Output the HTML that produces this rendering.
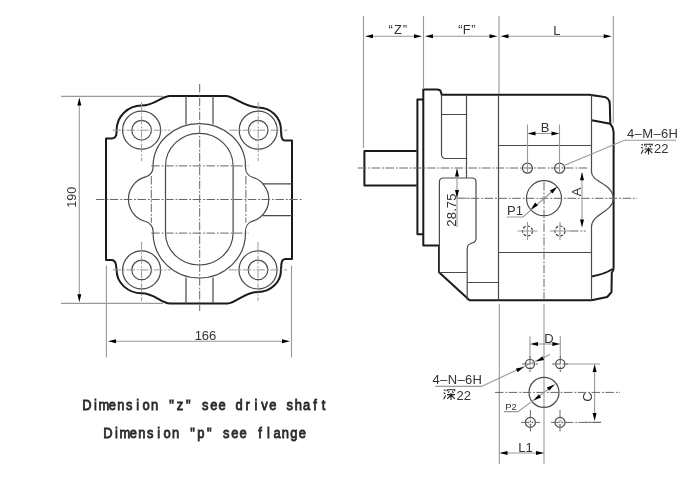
<!DOCTYPE html>
<html><head><meta charset="utf-8"><style>
html,body{margin:0;padding:0;background:#fff;width:700px;height:500px;overflow:hidden}
svg{display:block;will-change:transform}
.k{fill:none;stroke:#1a1a1a;stroke-width:2;stroke-linejoin:round}
.t{fill:none;stroke:#4a4a4a;stroke-width:1.2}
.h{fill:none;stroke:#333;stroke-width:1.1;stroke-dasharray:3 1.5}
.h2{fill:none;stroke:#999;stroke-width:0.8;stroke-dasharray:1 1}
.c2{fill:none;stroke:#999;stroke-width:1;stroke-dasharray:8.5 2 1.8 1.5}
.c{fill:none;stroke:#666;stroke-width:1;stroke-dasharray:8.5 2 1.8 1.5}
.d{fill:none;stroke:#999;stroke-width:1.1}
.cj{fill:none;stroke:#222;stroke-width:1.1}
.ar{fill:#000;stroke:none}
text{font-family:"Liberation Sans",sans-serif;fill:#333}
.dim{font-size:13px}
.dims{font-size:9.5px}
.note{font-family:"Liberation Sans",sans-serif;font-size:15.2px;fill:#2a2a2a;stroke:#2a2a2a;stroke-width:0.85}
</style></head><body>
<svg width="700" height="500" viewBox="0 0 700 500">
<path class="k" d="M169.3,96 L226.6,96 C236,97.5 245,107.4 258.2,107.4 A22.8,22.8 0 0 1 281,130.2 L281.4,136 Q281.8,140.6 285.5,140.6 L292,140.6 L292,258.9 L285.5,258.9 Q281.8,258.9 281.4,264 L281,269.9 A23,22 0 0 1 258,291.9 C245,291.9 236,303 227.5,303.6 L170.4,303.6 C160,303 155,293.2 141.6,293.2 A25,23.3 0 0 1 116.6,269.9 L116,265 Q115.4,260 111,260 L106,260 L106,138.4 L111.5,138.4 Q116.3,138.4 116.5,133 L116.6,130.2 A25,24.7 0 0 1 141.6,105.5 C155,105.5 160,97 169.3,96 Z"/>
<circle class="t" cx="141.6" cy="130.2" r="19"/>
<circle class="t" cx="141.6" cy="130.2" r="9.8"/>
<circle class="t" cx="258.2" cy="130.2" r="19"/>
<circle class="t" cx="258.2" cy="130.2" r="9.8"/>
<circle class="t" cx="141.6" cy="269.9" r="19"/>
<circle class="t" cx="141.6" cy="269.9" r="9.8"/>
<circle class="t" cx="258" cy="269.9" r="19"/>
<circle class="t" cx="258" cy="269.9" r="9.8"/>
<path class="t" d="M186,96 V124.5 M213,96 V124.5 M186,277.5 V303.6 M213,277.5 V303.6"/>
<path class="t" d="M153.1,166 A46.2,42.4 0 0 1 245.5,166 L245.5,167.66 A10,10 0 0 0 252.56,177.22 A23,23 0 0 1 252.56,221.18 A10,10 0 0 0 245.5,230.74 L245.5,233.1 A46.2,44.9 0 0 1 153.1,233.1 L153.1,231.14 A10,10 0 0 0 145.62,221.46 A23,23 0 0 1 145.62,176.94 A10,10 0 0 0 153.1,167.26 Z"/>
<path class="t" d="M165.5,166 A33.8,32.7 0 0 1 233.1,166 L233.1,233.1 A33.8,31.9 0 0 1 165.5,233.1 Z"/>
<path class="t" d="M262.8,183.9 H292 M262.8,215.6 H292"/>
<path class="c" d="M96,199.5 H302 M199.7,84 V311 M151.2,165.9 H248.4 M151.2,233.1 H248.4 M151.3,176 V222.8 M245.9,176 V222.8"/>
<path class="c2" d="M112.6,130.2 H170.6 M141.6,102.19999999999999 V161.2 M229.2,130.2 H287.2 M258.2,102.19999999999999 V161.2 M112.6,269.9 H170.6 M141.6,241.89999999999998 V300.9 M229,269.9 H287 M258,241.89999999999998 V300.9"/>
<path class="d" d="M61,96.4 H163 M61,303.4 H163 M79.3,104 V296 M106.4,265.5 V357.5 M291.5,265.5 V357.5 M114,341.2 H284"/>
<path class="ar" d="M79.30,97.60 L81.30,105.60 L77.30,105.60 Z"/>
<path class="ar" d="M79.30,302.20 L77.30,294.20 L81.30,294.20 Z"/>
<path class="ar" d="M108.00,341.20 L116.00,339.20 L116.00,343.20 Z"/>
<path class="ar" d="M290.00,341.20 L282.00,343.20 L282.00,339.20 Z"/>
<text class="dim" x="205.5" y="340" text-anchor="middle">166</text>
<text class="dim" transform="translate(75.8,197.3) rotate(-90)" text-anchor="middle" style="font-size:12.5px">190</text>
<path class="k" d="M416.6,151 H364.4 V185.4 H416.6"/>
<path class="k" d="M423,99.4 H417.4 V234.3 H423"/>
<path class="k" d="M423.3,245.6 V89.4 H437 Q440.5,89.4 441,92 L441.6,94.8 H589.2 L603,96.8 Q609.6,97.5 609.8,104 L610.3,123.8 L612.6,127.4 L613.6,132 V268 Q613.4,271.5 611.8,272.5 L611.5,292 L607.2,297 L591.6,300.2 H469.6 L439,272.3 V245.6 Z"/>
<path class="k" d="M591.6,120.2 L610.3,123.8 M591.6,276.4 Q604,274.5 612.6,269"/>
<path class="t" d="M441.5,94.8 V154 Q441.5,158.5 445.5,158.5 H466.5 M441.5,114.5 H466.5 M466.5,94.8 V178 M498.5,94.8 V300.2 M498.5,145.5 H591.5 M498.5,252.5 H591.5 M591.5,94.8 V172 C591.5,182 613.3,184 613.3,198.4 C613.3,212 591.5,214 591.5,226.7 V300.2"/>
<path class="t" d="M439.4,272.3 V182 Q439.4,178 443.4,178 H472 Q476,178 476,182 V238.4 Q476,242 472,243 L470,244 Q467.2,245 467.2,249 V300.2 M439,272.5 H466.5 M467.2,282.5 H498.5"/>
<circle class="t" cx="527.4" cy="168.2" r="5"/><circle class="t" cx="559.6" cy="168.2" r="5"/>
<circle class="t" cx="544" cy="198.2" r="17.5"/>
<circle class="h" cx="527.5" cy="231" r="5"/><circle class="h" cx="560" cy="231" r="5"/><path class="d" d="M517.5,231 H537.5 M527.5,222 V240 M550,231 H570 M560,222 V240"/>
<path class="c" d="M357.9,168 H588.6 M457,198.3 H637 M570,231 H585.7 M544,182 V300 "/>
<path class="d" d="M363.5,16 V148 M423.5,16 V89 M499,16 V94 M613.3,16 V123.5 M371,36.3 H416 M431,36.3 H491 M506,36.3 H605"/>
<path class="ar" d="M365.00,36.30 L373.00,34.30 L373.00,38.30 Z"/><path class="ar" d="M422.00,36.30 L414.00,38.30 L414.00,34.30 Z"/><path class="ar" d="M425.00,36.30 L433.00,34.30 L433.00,38.30 Z"/><path class="ar" d="M497.50,36.30 L489.50,38.30 L489.50,34.30 Z"/><path class="ar" d="M500.50,36.30 L508.50,34.30 L508.50,38.30 Z"/><path class="ar" d="M611.70,36.30 L603.70,38.30 L603.70,34.30 Z"/>
<text class="dim" x="390.6 398 405" y="34.4" text-anchor="middle">“Z”</text>
<text class="dim" x="460.3 466.8 473.3" y="34.4" text-anchor="middle">“F”</text>
<text class="dim" x="556.9" y="34.5" text-anchor="middle">L</text>
<path class="d" d="M527.5,124.4 V173 M559.5,124.4 V173 M535,133.5 H552"/>
<path class="ar" d="M527.50,133.50 L535.50,131.50 L535.50,135.50 Z"/><path class="ar" d="M559.50,133.50 L551.50,135.50 L551.50,131.50 Z"/>
<text class="dim" x="545" y="131.9" text-anchor="middle">B</text>
<path class="d" d="M563,166 L624.4,140.3 H676"/>
<text class="dim" x="627" y="137.9" textLength="51" lengthAdjust="spacing">4–M–6H</text>
<path class="d" d="M582,172.7 V225"/>
<path class="ar" d="M582.00,172.20 L584.00,180.20 L580.00,180.20 Z"/><path class="ar" d="M582.00,227.50 L580.00,219.50 L584.00,219.50 Z"/>
<text class="dim" transform="translate(580.5,192) rotate(-90)" text-anchor="middle">A</text>
<path class="d" d="M507,217 H523 L556,188"/>
<path class="ar" d="M530.80,209.60 L535.17,202.60 L537.94,205.48 Z"/><path class="ar" d="M557.20,186.80 L552.47,193.56 L549.85,190.54 Z"/>
<text class="dim" x="515" y="215" text-anchor="middle">P1</text>
<path class="d" d="M457,169 V227 M457,198.3 H470"/>
<path class="ar" d="M457.00,168.50 L459.00,176.50 L455.00,176.50 Z"/><path class="ar" d="M457.00,198.00 L455.00,190.00 L459.00,190.00 Z"/>
<text class="dim" transform="translate(456,227) rotate(-90)" x="4 11.3 17.2 22.5 29.8" text-anchor="middle">28.75</text>
<path class="d" d="M499.3,304 V464 M544,304 V464 M530,336.2 V358 M560.3,336.2 V358 M501,453 H543 M594.6,370 V415 M565,364 H600 M585,422.4 H601"/>
<circle class="t" cx="530" cy="364" r="4.6"/><circle class="t" cx="560.3" cy="364" r="4.6"/>
<circle class="t" cx="544" cy="392.4" r="15"/>
<circle class="t" cx="530.4" cy="422.4" r="5"/><circle class="t" cx="560" cy="422.4" r="5"/><circle class="h2" cx="530.4" cy="422.4" r="2.4"/><circle class="h2" cx="560" cy="422.4" r="2.4"/>
<path class="c" d="M495,392.4 H620 M521,422.4 H540 M551,422.4 H601 M522,364 H538 M552,364 H568 M530,356 V372 M560.3,356 V372 M530.4,410 V431.5 M560,410 V431.5"/>
<path class="ar" d="M530.00,344.00 L538.00,342.00 L538.00,346.00 Z"/><path class="ar" d="M560.30,344.00 L552.30,346.00 L552.30,342.00 Z"/>
<path class="d" d="M538,344 H552"/>
<text class="dim" x="549" y="343" text-anchor="middle">D</text>
<path class="ar" d="M594.60,364.00 L596.60,372.00 L592.60,372.00 Z"/><path class="ar" d="M594.60,421.00 L592.60,413.00 L596.60,413.00 Z"/>
<text class="dim" transform="translate(592,397) rotate(-90)" text-anchor="middle">C</text>
<path class="ar" d="M499.50,453.00 L507.50,451.00 L507.50,455.00 Z"/><path class="ar" d="M544.00,453.00 L536.00,455.00 L536.00,451.00 Z"/>
<text class="dim" x="525.5" y="452" text-anchor="middle">L1</text>
<path class="d" d="M435.2,386.4 H481.6 L550,354.5"/>
<path class="ar" d="M524.00,367.00 L517.59,372.19 L515.90,368.57 Z"/><path class="ar" d="M536.00,361.50 L542.41,356.31 L544.10,359.93 Z"/>
<text class="dim" x="432.5" y="384" textLength="49.5" lengthAdjust="spacing">4–N–6H</text>
<path class="d" d="M504,411.6 H518 L555,384.4"/>
<path class="ar" d="M533.50,400.50 L538.80,394.18 L541.15,397.42 Z"/><path class="ar" d="M554.50,384.50 L549.20,390.82 L546.85,387.58 Z"/>
<text class="dims" x="511" y="410" text-anchor="middle">P2</text>
<text class="note" transform="scale(0.85,1)" x="102.35 112.29 122.24 132.18 142.12 152.06 162.00 171.94 181.88 191.82 201.76 211.71 221.65 231.59 241.53 251.47 261.41 271.35 281.29 291.24 301.18 311.12 321.06 331.00 340.94 350.88 360.82 370.76 380.71" y="409.6" text-anchor="middle">Dimension &quot;z&quot; see drive shaft</text>
<text class="note" transform="scale(0.85,1)" x="127.06 137.00 146.94 156.88 166.82 176.76 186.71 196.65 206.59 216.53 226.47 236.41 246.35 256.29 266.24 276.18 286.12 296.06 306.00 315.94 325.88 335.82 345.76 355.71" y="437.6" text-anchor="middle">Dimension &quot;p&quot; see flange</text>
<path class="cj" d="M641.5,144.2 l1.5,1.0 M641.2,147.2 l1.5,1.0 M641.2,153.7 l2.0,-4.0 M644.7,145.7 v-1.5 h7.5 v1.5 M646.7,145.7 l-1.0,1.5 M649.7,145.7 l1.2,1.5 M644.5,149.0 h8.0 M648.5,147.5 v7.0 M648.5,149.2 l-3.8,4.0 M648.5,149.2 l3.8,4.0"/>
<text class="dim" x="654" y="153.2" text-anchor="start">22</text>
<path class="cj" d="M444.0,389.8 l1.5,1.0 M443.7,392.8 l1.5,1.0 M443.7,399.3 l2.0,-4.0 M447.2,391.3 v-1.5 h7.5 v1.5 M449.2,391.3 l-1.0,1.5 M452.2,391.3 l1.2,1.5 M447.0,394.6 h8.0 M451.0,393.1 v7.0 M451.0,394.8 l-3.8,4.0 M451.0,394.8 l3.8,4.0"/>
<text class="dim" x="456.5" y="399.8" text-anchor="start">22</text>
</svg>
</body></html>
